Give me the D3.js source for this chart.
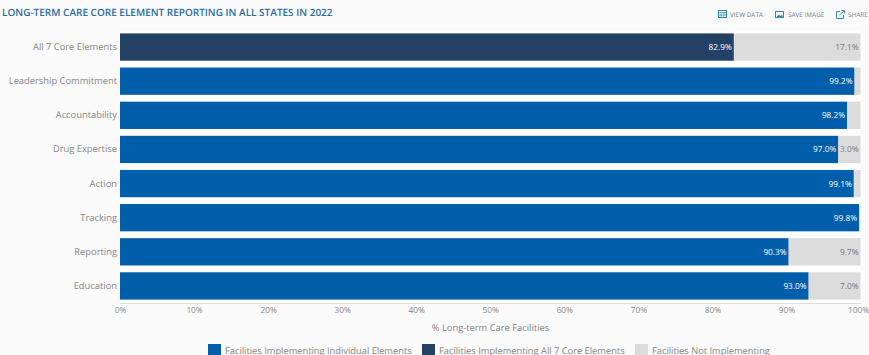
<!DOCTYPE html>
<html>
<head>
<meta charset="utf-8">
<script src="https://cdn.jsdelivr.net/npm/d3@7"></script>
<style>
html,body{margin:0;padding:0;background:#fbfbfb;overflow:hidden}
text{font-family:"Open Sans",sans-serif;text-rendering:geometricPrecision}
</style>
</head>
<body>
<svg id="chart" width="869" height="355"></svg>
<script>
const categories = ["All 7 Core Elements","Leadership Commitment","Accountability","Drug Expertise","Action","Tracking","Reporting","Education"];
const implementing = [82.9,99.2,98.2,97.0,99.1,99.8,90.3,93.0];
const notImplementing = [17.1,0.8,1.8,3.0,0.9,0.2,9.7,7.0];
const xTicks = [0,10,20,30,40,50,60,70,80,90,100];
const legendLabels = ["Facilities Implementing Individual Elements","Facilities Implementing All 7 Core Elements","Facilities Not Implementing"];
const titleText = "LONG-TERM CARE CORE ELEMENT REPORTING IN ALL STATES IN 2022";
const axisTitle = "% Long-term Care Facilities";
const toolLabels = ["VIEW DATA","SAVE IMAGE","SHARE"];

const BLUE = "#005eaa", NAVY = "#234065", GREY = "#dcdcdc", TEXT = "#858585";
const svg = d3.select("#chart");

const x = d3.scaleLinear().domain([0,100]).range([120,860.5]);
const y = d3.scaleBand().domain(categories).range([30,303]).paddingInner(0.2).paddingOuter(0.1);

// white strips show between the bars
svg.append("rect").attr("x",120).attr("y",30).attr("width",740.5).attr("height",273).attr("fill","#ffffff");

svg.append("text").attr("x",2).attr("y",16).attr("font-size",10).attr("font-weight",600)
  .attr("fill","#2b6ca3").text(titleText);

const rows = svg.append("g").selectAll("g").data(categories).join("g");

// stacked segments: implementing first, remainder after it
rows.append("rect")
  .attr("x",x(0)).attr("y",d=>y(d))
  .attr("width",(d,i)=>x(implementing[i])-x(0)).attr("height",y.bandwidth())
  .attr("fill",(d,i)=>i===0?NAVY:BLUE);
rows.append("rect")
  .attr("x",(d,i)=>x(implementing[i])).attr("y",d=>y(d))
  .attr("width",(d,i)=>x(implementing[i]+notImplementing[i])-x(implementing[i])).attr("height",y.bandwidth())
  .attr("fill",GREY);

rows.append("text")
  .attr("x",(d,i)=>x(implementing[i])-2).attr("y",d=>y(d)+y.bandwidth()/2+3)
  .attr("text-anchor","end").attr("font-size",8.3).attr("font-weight",500).attr("fill","#fff")
  .text((d,i)=>implementing[i].toFixed(1)+"%");

// the remainder is only labelled when the segment has room for it
rows.filter((d,i)=>notImplementing[i]>=3).append("text")
  .attr("x",x(100)-2).attr("y",d=>y(d)+y.bandwidth()/2+3)
  .attr("text-anchor","end").attr("font-size",8.3).attr("fill","#777")
  .text(d=>notImplementing[categories.indexOf(d)].toFixed(1)+"%");

// category axis
const yAxis = svg.append("g").attr("transform","translate(120,0)")
  .call(d3.axisLeft(y).tickSize(0).tickPadding(3));
yAxis.select(".domain").remove();
yAxis.selectAll("text").attr("font-size",9.35).attr("fill",TEXT).style("font-family",'"Open Sans",sans-serif');

// value axis; the last label is pulled in so it stays inside the page
const xAxis = svg.append("g").attr("transform","translate(0,303)")
  .call(d3.axisBottom(x).tickValues(xTicks).tickFormat(d=>d+"%").tickSize(0).tickPadding(4));
xAxis.select(".domain").attr("stroke","#dedede");
xAxis.selectAll("text").attr("font-size",8.3).attr("fill",TEXT).style("font-family",'"Open Sans",sans-serif');
xAxis.selectAll(".tick").filter(d=>d===100).select("text").attr("text-anchor","end").attr("x",8);

svg.append("text").attr("x",490.5).attr("y",331).attr("text-anchor","middle")
  .attr("font-size",9.35).attr("fill",TEXT).text(axisTitle);

// legend
const legendX = [208,422,635], legendColors = [BLUE,NAVY,GREY];
const legend = svg.append("g").selectAll("g").data(legendLabels).join("g")
  .attr("transform",(d,i)=>`translate(${legendX[i]},344)`);
legend.append("rect").attr("width",13).attr("height",11).attr("fill",(d,i)=>legendColors[i]);
legend.append("text").attr("x",17).attr("y",9.5).attr("font-size",9.3).attr("fill",TEXT).text(d=>d);

// toolbar
const toolX = [730,788,848], ICON = "#2e8fb0";
const tools = svg.append("g").selectAll("g").data(toolLabels).join("g")
  .attr("transform",(d,i)=>`translate(${toolX[i]},16.5)`);
tools.append("text").attr("font-size",6.4).attr("fill","#5f7f95").text(d=>d);

const view = svg.append("g").attr("transform","translate(718,10)").attr("fill","none").attr("stroke",ICON);
view.append("rect").attr("x",.5).attr("y",.5).attr("width",8).attr("height",7);
view.append("path").attr("d","M0.5 2.5H8.5M0.5 5H8.5M3.2 2.5V7.5M5.8 2.5V7.5").attr("stroke-width",.7);

const save = svg.append("g").attr("transform","translate(775,11)");
save.append("rect").attr("x",.5).attr("y",.5).attr("width",8).attr("height",6).attr("fill","#fff").attr("stroke",ICON);
save.append("path").attr("d","M1 6.5L3.5 3.5L5.5 5L7 3.5L8 6.5Z").attr("fill",ICON);

const share = svg.append("g").attr("transform","translate(836,10)").attr("fill","none").attr("stroke",ICON);
share.append("path").attr("d","M4 1.5H0.5V8.5H7.5V5");
share.append("path").attr("d","M3.5 5L8 .8M5.5 .5H8.5V3.5");
</script>
</body>
</html>
